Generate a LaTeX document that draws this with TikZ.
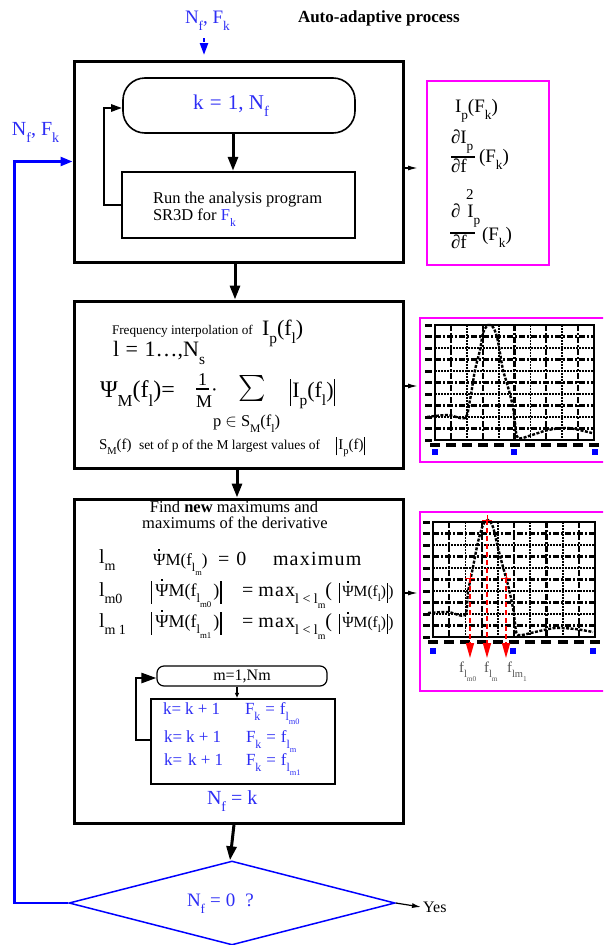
\documentclass[tikz,border=0pt]{standalone}
\usepackage{fontspec}
\setmainfont{Liberation Serif}
\newfontfamily\spaced[LetterSpace=6]{Liberation Serif}
\usepackage{graphicx}
\usetikzlibrary{arrows.meta,shapes.geometric,calc}
\definecolor{tblue}{RGB}{45,45,245}
\definecolor{mag}{RGB}{255,0,255}
\definecolor{fgray}{RGB}{85,85,85}
\newcommand\lo[1]{\raisebox{-0.38em}{\scalebox{0.7}{#1}}}
\newcommand\vb{\rule[-0.42em]{1.3pt}{1.25em}}
\newcommand\dpsi{\ooalign{Ψ\cr\hidewidth\raisebox{0.85em}{\rule{1.7pt}{1.7pt}}\hidewidth\cr}}
\newcommand\fs[1]{\fontsize{#1}{#1}\selectfont}
\newcommand\chartgrid[4]{%
  \draw[line width=2.4pt] (#1,#2) rectangle (#3,#4);
  \foreach \i in {1,...,9} {
    \pgfmathsetmacro\xx{#1+\i*(#3-#1)/10}
    \pgfmathsetmacro\yy{#2+\i*(#4-#2)/10}
    \ifodd\i
      \draw[gridA] (\xx,#2) -- (\xx,#4);
      \draw[gridA] (#1,\yy) -- (#3,\yy);
    \else
      \draw[gridB] (\xx,#2) -- (\xx,#4);
      \draw[gridB] (#1,\yy) -- (#3,\yy);
    \fi
  }
  \foreach \i in {0,...,10} {
    \pgfmathsetmacro\xx{#1+\i*(#3-#1)/10}
    \pgfmathsetmacro\yy{#2+\i*(#4-#2)/10}
    \fill (\xx-5,#4+3) rectangle (\xx+5,#4+7);
    \fill (#1-10,\yy-1.5) rectangle (#1-3,\yy+1.5);
  }
}
\begin{document}
\begin{tikzpicture}[x=1pt,y=-1pt,
  box/.style={draw, line width=3pt, minimum width=329pt, inner sep=0pt},
  tx/.style={anchor=base west, inner sep=0pt, outer sep=0pt},
  bigarrow/.style={line width=3pt, -{Triangle[length=14pt,width=10pt]}},
  smallarrow/.style={line width=1.5pt, -{Latex[length=10pt,width=5pt]}},
  magbox/.style={draw=mag, line width=2.5pt, inner sep=0pt},
  gridA/.style={line width=2.2pt, dash pattern=on 6pt off 2pt on 2pt off 2pt},
  gridB/.style={line width=1.8pt, dash pattern=on 1.5pt off 1.5pt},
  curve/.style={line width=2.4pt, dash pattern=on 3pt off 1.5pt, smooth},
  redarrow/.style={red, line width=1.5pt, dash pattern=on 5pt off 3pt, -{Triangle[length=15pt,width=8pt]}},
  bsq/.style={fill=blue},
]
\useasboundingbox (0,0) rectangle (603,945);
\clip (0,0) rectangle (603,945);

% title and input
\node[tx, font=\bfseries\fs{17}] (title) at (298,22) {Auto-adaptive process};
\node[tx, text=tblue, font=\fs{19}] (nfk) at (185,23) {N\lo{f}, F\lo{k}};
\coordinate (intop) at (204,55);
\draw[blue, line width=2.5pt, dash pattern=on 4pt off 2pt, -{Triangle[length=12pt,width=8pt]}, shorten <=8pt] (nfk.south -| intop) -- (intop);

% box 1
\node[box, minimum height=201pt] (box1) at (238.5,161.5) {};
\node[draw, line width=1.6pt, rounded corners=22pt, minimum width=232pt, minimum height=55pt] (term) at (239,105.5) {};
\node[tx, text=tblue, font=\fs{21}] (k1) at (193,109) {k\hspace{0.3em}=\hspace{0.3em}1, N\lo{f}};
\node[draw, line width=2.5pt, minimum width=233pt, minimum height=66pt] (run) at (238.5,205) {};
\node[tx, font=\fs{16.5}] (runt1) at (153,203) {Run the analysis program};
\node[tx, font=\fs{16.5}] (runt2) at (153,220) {SR3D for \textcolor{tblue}{F\lo{k}}};
\draw[bigarrow] ([xshift=-6pt]term.south) -- ([xshift=-5.5pt]run.north);
\draw[line width=2.5pt, -{Triangle[length=11pt,width=7pt]}] (run.west) -- ++(-17,0) |- ([yshift=-2.5pt]term.west);

% magenta 1
\node[magbox, minimum width=122pt, minimum height=184pt] (mag1) at (488,173) {};
\coordinate (a1) at (418,168);
\draw[smallarrow] (box1.east |- a1) -- (a1);
\node[tx, font=\fs{19}] (m1a) at (455,112) {I\lo{p}(F\lo{k})};
\node[tx, font=\fs{19}] (m1b) at (451,143) {∂I\lo{p}};
\draw[line width=1.6pt] (451,157) -- (475,157);
\node[tx, font=\fs{19}] (m1c) at (451,172) {∂f};
\node[tx, font=\fs{19}] (m1d) at (479,162) {(F\lo{k})};
\node[tx, font=\fs{15}] (m1e) at (466,199) {2};
\node[tx, font=\fs{19}] (m1f) at (451,217) {∂\hspace{7pt}I\lo{p}};
\draw[line width=1.6pt] (450,233) -- (475,233);
\node[tx, font=\fs{19}] (m1g) at (451,248) {∂f};
\node[tx, font=\fs{19}] (m1h) at (482,240) {(F\lo{k})};

% box 2
\node[box, minimum height=167pt] (box2) at (238.5,384.5) {};
\draw[bigarrow] ([xshift=-3.5pt]box1.south) -- ([xshift=-3.5pt]box2.north);
\node[tx, font=\fs{13.2}] (b2a) at (112,334) {Frequency interpolation of};
\node[tx, font=\fs{22}] (b2b) at (262,335) {I\lo{p}(f\lo{l})};
\node[tx, font=\fs{22}] (b2c) at (113,356) {l\hspace{0.3em}=\hspace{0.3em}1…,N\lo{s}};
\node[tx, font=\fs{24}] (b2d) at (100,397) {Ψ\lo{M}(f\lo{l})=};
\node[tx, font=\fs{18}] (b2e) at (198,385) {1};
\draw[line width=1.4pt] (196,389) -- (209,389);
\node[tx, font=\fs{18}] (b2f) at (196,407) {M};
\node[tx, font=\fs{20}] (b2g) at (211,396) {·};
\node[inner sep=0pt] (sig) at (252,388) {\scalebox{2.6}{$\textstyle\sum$}};
\node[tx, font=\fs{22}] (b2h) at (290,397) {\vb\kern1pt I\lo{p}(f\lo{l})\vb};
\node[tx, font=\fs{16.5}] (b2i) at (213,426) {p $\in$ S\lo{M}(f\lo{l})};
\node[tx, font=\fs{15}] (b2j) at (99,449) {S\lo{M}(f)};
\node[tx, font=\fs{13.5}] (b2k) at (139,449) {set of p of the M largest values of};
\node[tx, font=\fs{15}] (b2l) at (336,449) {\vb\kern1pt I\lo{p}(f)\vb};

% magenta 2 with chart
\node[magbox, minimum width=190pt, minimum height=144pt] (mag2) at (515,390) {};
\coordinate (a2) at (418,386);
\draw[smallarrow] (box2.east |- a2) -- (a2);
\chartgrid{435}{325}{594}{440}
\draw[curve] plot coordinates {(427,417) (448,415) (465,418) (470,400) (475,370) (480,350) (483,333) (488,325) (493,327) (497,337) (500,353) (503,370) (508,387) (513,407) (515,423) (518,438) (532,435) (548,430) (568,428) (592,433)};
\fill[bsq] (432,449) rectangle (438,455);
\fill[bsq] (511,449) rectangle (517,455);
\fill[bsq] (592,449) rectangle (598,455);

% box 3
\node[box, minimum height=324pt] (box3) at (238.5,661) {};
\draw[bigarrow] ([xshift=-1.5pt]box2.south) -- ([xshift=-1.5pt]box3.north);
\node[anchor=base, inner sep=0pt, font=\fs{16.5}] (b3a) at (234,512) {Find \textbf{new} maximums and};
\node[anchor=base, inner sep=0pt, font=\fs{16.5}] (b3b) at (235,528) {maximums of the derivative};
% row 1
\node[tx, font=\fs{20}] (r1a) at (99,563) {l\lo{m}};
\node[tx, font=\fs{17}] (r1b) at (153,565) {\dpsi M(f\lo{l\lo{m}})};
\node[tx, font=\fs{20}] (r1c) at (218,565) {=\hspace{7pt}0};
\node[tx, font=\spaced\fs{20}] (r1d) at (273,565) {maximum};
% row 2
\node[tx, font=\fs{20}] (r2a) at (99,596) {l\lo{m0}};
\node[tx, font=\fs{18}] (r2b) at (151,596) {\vb\kern3pt\dpsi M(f\lo{l\lo{m0}}\kern2pt)\kern1pt\vb};
\node[tx, font=\fs{20}] (r2c) at (242,596) {=\hspace{5pt}{\spaced max}\lo{l < l\lo{m}}(};
\node[tx, font=\fs{15.5}] (r2d) at (339,596) {\vb\kern2pt\dpsi M(f\lo{l})\kern1pt\vb)};
% row 3
\node[tx, font=\fs{20}] (r3a) at (99,627) {l\lo{m 1}};
\node[tx, font=\fs{18}] (r3b) at (151,627) {\vb\kern3pt\dpsi M(f\lo{l\lo{m1}}\kern2pt)\kern1pt\vb};
\node[tx, font=\fs{20}] (r3c) at (242,627) {=\hspace{5pt}{\spaced max}\lo{l < l\lo{m}}(};
\node[tx, font=\fs{15.5}] (r3d) at (339,627) {\vb\kern2pt\dpsi M(f\lo{l})\kern1pt\vb)};
% inner loop
\node[draw, line width=1.2pt, rounded corners=7pt, minimum width=170pt, minimum height=20pt, inner sep=0pt, font=\fs{16}] (iterm) at (242,676) {m=1,Nm};
\node[draw, line width=2.5pt, minimum width=184pt, minimum height=85pt] (ibox) at (243,741.5) {};
\draw[line width=1.2pt, -{Triangle[length=5pt,width=4pt]}] ([xshift=-5pt]iterm.south) -- ([xshift=-6pt]ibox.north);
\draw[line width=2.5pt, -{Triangle[length=15pt,width=10pt]}] ([yshift=1.5pt]ibox.west) -- ++(-14,0) |- ([yshift=-2pt]iterm.west);
\node[tx, text=tblue, font=\fs{17}] (i1a) at (163,714) {k=\hspace{4pt}k + 1};
\node[tx, text=tblue, font=\fs{17}] (i1b) at (245,714) {F\lo{k}\hspace{5pt}=\hspace{5pt}f\lo{l\lo{m0}}};
\node[tx, text=tblue, font=\fs{17}] (i2a) at (164,742) {k=\hspace{4pt}k + 1};
\node[tx, text=tblue, font=\fs{17}] (i2b) at (246,742) {F\lo{k}\hspace{5pt}=\hspace{5pt}f\lo{l\lo{m}}};
\node[tx, text=tblue, font=\fs{17}] (i3a) at (164,765) {k=\hspace{6pt}k + 1};
\node[tx, text=tblue, font=\fs{17}] (i3b) at (246,765) {F\lo{k}\hspace{5pt}=\hspace{5pt}f\lo{l\lo{m1}}};
\node[tx, text=tblue, font=\fs{20}] (nfk3) at (207,804) {N\lo{f}\hspace{5pt}=\hspace{5pt}k};

% magenta 3 with chart
\node[magbox, minimum width=190pt, minimum height=179pt] (mag3) at (515,601.5) {};
\coordinate (a3) at (418,593);
\draw[smallarrow] (box3.east |- a3) -- (a3);
\chartgrid{433}{522}{595}{637}
\draw[curve] plot coordinates {(428,613) (448,612) (465,615) (468,592) (473,567) (478,542) (483,525) (488,520) (493,527) (498,548) (503,567) (508,585) (513,608) (515,623) (518,635) (535,632) (555,628) (575,629) (593,632)};
\fill[bsq] (430,648) rectangle (436,654);
\fill[bsq] (510,648) rectangle (516,654);
\fill[bsq] (590,648) rectangle (596,654);
\foreach \px/\py in {470/578, 487/520, 506/578} {
  \draw[red, line width=1pt] (\px-5,\py) -- (\px+5,\py) (\px,\py-5) -- (\px,\py+5);
  \draw[redarrow] (\px,\py) -- (\px,658);
}
\node[tx, text=fgray, font=\fs{15}] (fl1) at (459,672) {f\lo{l\lo{m0}}};
\node[tx, text=fgray, font=\fs{15}] (fl2) at (484,672) {f\lo{l\lo{m}}};
\node[tx, text=fgray, font=\fs{15}] (fl3) at (507,672) {f\lo{lm\lo{1}}};

% decision
\node[diamond, draw=blue, line width=1.5pt, minimum width=326pt, minimum height=84pt, inner sep=0pt] (dia) at (232,903) {};
\draw[bigarrow] ([xshift=-4.5pt]box3.south) -- ([xshift=-2pt]dia.north);
\node[tx, text=tblue, font=\fs{19}] (diat) at (187,906) {N\lo{f}\hspace{5pt}=\hspace{5pt}0\hspace{10pt}?};
\node[anchor=west, inner sep=2pt, font=\fs{16}] (yes) at (421,907) {Yes};
\draw[line width=1.2pt, -{Latex[length=9pt,width=5pt]}] (dia.east) -- (yes.west);
\node[tx, text=tblue, font=\fs{20}] (nfk2) at (12,135) {N\lo{f}, F\lo{k}};
\draw[blue, line width=2.5pt, -{Triangle[length=12pt,width=9pt]}] (dia.west) -- ++(-54,0) |- (box1.west);
\end{tikzpicture}
\end{document}
